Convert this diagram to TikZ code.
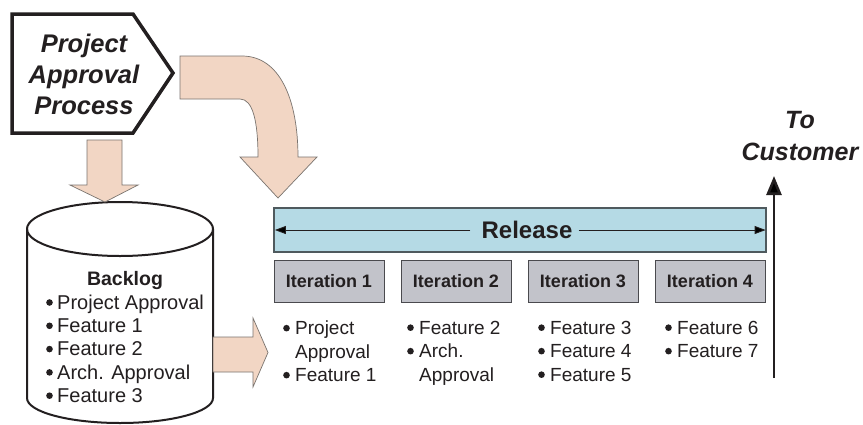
\documentclass[tikz,border=0pt]{standalone}
\usepackage{fontspec}
\setmainfont{Liberation Sans}
\usetikzlibrary{arrows.meta}
\definecolor{peach}{HTML}{F2D6C4}
\definecolor{peachedge}{HTML}{7A746F}
\definecolor{relblue}{HTML}{B5DAE5}
\definecolor{reledge}{HTML}{4F5A5E}
\definecolor{itgray}{HTML}{C2C3CA}
\definecolor{itedge}{HTML}{4A4A4E}
\definecolor{ink}{HTML}{231F20}
\newcommand{\bigbul}{\tikz[baseline=0pt]\fill[ink] (3.3pt,6.8pt) circle (3.3pt);}
\newcommand{\myb}{\makebox[12pt][l]{\bigbul}}
\newcommand{\mybb}{\makebox[11pt][l]{\bigbul}}
\newcommand{\myind}{\hspace*{12pt}}
\begin{document}
\begin{tikzpicture}[x=1pt,y=-1pt,
  fatarrow/.style={fill=peach,draw=peachedge,line width=0.7pt,line join=miter},
  itbox/.style={draw=itedge,fill=itgray,line width=1pt,minimum width=110pt,minimum height=42pt,
    inner sep=0pt,font=\bfseries\fontsize{18}{20}\selectfont,text=ink},
  list/.style={anchor=north west,inner sep=0pt,align=left,text=ink,
    font=\fontsize{19}{23.5}\selectfont},
  bititle/.style={font=\bfseries\itshape\fontsize{25.5}{31}\selectfont,align=center,text=ink,inner sep=0pt}]
\useasboundingbox (0,0) rectangle (863,424);
\fill[white] (0,0) rectangle (863,424);

% Project approval process (pentagon)
\draw[line width=3.5pt,line join=miter,fill=white,draw=ink]
  (12,14) -- (133,14) -- (173,73) -- (133,133) -- (12,133) -- cycle;
\node[bititle] (pap) at (84,74) {Project\\Approval\\Process};

% Backlog cylinder
\draw[line width=2pt,draw=ink,fill=white]
  (27,229) -- (27,398)
  .. controls (27,411.8) and (68.6,423) .. (120,423)
  .. controls (171.4,423) and (213,411.8) .. (213,398)
  -- (213,229)
  .. controls (213,214.1) and (171.4,202) .. (120,202)
  .. controls (68.6,202) and (27,214.1) .. (27,229) -- cycle;
\draw[line width=2pt,draw=ink]
  (27,229) .. controls (27,243.9) and (68.6,256) .. (120,256)
  .. controls (171.4,256) and (213,243.9) .. (213,229);
\node[inner sep=0pt,anchor=base,font=\bfseries\fontsize{19.5}{23}\selectfont,text=ink] (blt) at (125,285) {Backlog};
\node[list,font=\fontsize{20}{23.3}\selectfont] (bli) at (46,294.6)
  {\mybb Project Approval\\\mybb Feature 1\\\mybb Feature 2\\\mybb Arch. Approval\\\mybb Feature 3};

% down arrow
\draw[fatarrow] (87,140) -- (122,140) -- (122,185) -- (138,185) -- (105,202) -- (70,185) -- (87,185) -- cycle;

% curved arrow
\draw[fatarrow] (180,56) -- (242,56) .. controls (280,56) and (298,100) .. (298,157)
  -- (317,157) -- (278,198) -- (240,157) -- (258,157)
  .. controls (258,122) and (253,99) .. (240,99) -- (180,99) -- cycle;

% right arrow
\draw[fatarrow] (213,337) -- (253,337) -- (253,318) -- (268,352.5) -- (253,387) -- (253,372) -- (213,372) -- cycle;

% Release bar
\node[draw=reledge,fill=relblue,line width=1.2pt,minimum width=492pt,minimum height=44pt,inner sep=0pt] (rel) at (520,230) {};
\node[inner sep=0pt,font=\bfseries\fontsize{24}{26}\selectfont,text=ink] (rl) at (527,230) {Release};
\draw[line width=0.9pt,draw=ink,-{Triangle[width=8pt,length=11pt]}] ([xshift=-11pt]rl.west) -- ([xshift=1.5pt]rel.west);
\draw[line width=0.9pt,draw=ink,-{Triangle[width=8pt,length=11pt]}] ([xshift=6pt]rl.east) -- ([xshift=-1pt]rel.east);

% Iterations
\node[itbox] (it1) at (329,281) {Iteration 1};
\node[itbox] (it2) at (456,281) {Iteration 2};
\node[itbox] (it3) at (583,281) {Iteration 3};
\node[itbox] (it4) at (710,281) {Iteration 4};

\node[list] (l1) at (283,321) {\myb Project\\\myind Approval\\\myb Feature 1};
\node[list] (l2) at (407,321) {\myb Feature 2\\\myb Arch.\\\myind Approval};
\node[list] (l3) at (538,321) {\myb Feature 3\\\myb Feature 4\\\myb Feature 5};
\node[list] (l4) at (665,321) {\myb Feature 6\\\myb Feature 7};

% To customer
\coordinate (upS) at (774,378);
\coordinate (upE) at (774,176);
\draw[line width=2.6pt,draw=ink,-{Triangle[width=15pt,length=19pt]}] (upS) -- (upE);
\node[bititle,font=\bfseries\itshape\fontsize{25}{32}\selectfont] (cust) at (800,136) {To\\Customer};
\end{tikzpicture}
\end{document}
